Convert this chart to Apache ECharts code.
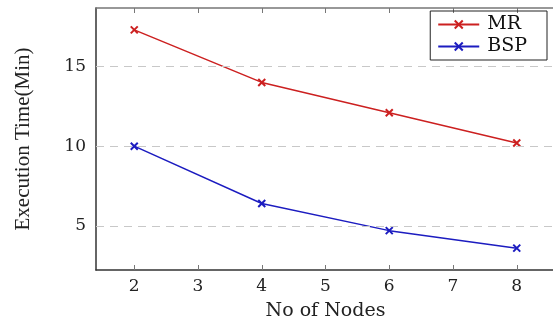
<!DOCTYPE html>
<html>
<head>
<meta charset="utf-8">
<script src="https://cdn.jsdelivr.net/npm/echarts@6/dist/echarts.min.js"></script>
<style>
  html, body { margin: 0; padding: 0; background: #fff; }
  #main { width: 553px; height: 322px; }
</style>
</head>
<body>
<div id="main"></div>
<script>
// values
var nodes = [2, 4, 6, 8];
var mrTime = [17.3, 14.0, 12.1, 10.2];
var bspTime = [10.0, 6.4, 4.7, 3.6];
var xTicks = [2, 3, 4, 5, 6, 7, 8];
var yTicks = [5, 10, 15];

var chart = echarts.init(document.getElementById('main'));

// little "x" marker like pgfplots
var cross = 'path://M0,0L10,10M10,0L0,10';
var serif = '"DejaVu Serif", "Liberation Serif", serif';
var narrowSerif = '"Liberation Serif", "DejaVu Serif", serif';

function pairs(xs, ys) {
  return xs.map(function (x, i) { return [x, ys[i]]; });
}

var option = {
  animation: false,
  grid: { left: 96, top: 8, right: -2, bottom: 52, outerBoundsMode: 'none', containLabel: false },
  legend: {
    orient: 'vertical',
    right: 6,
    top: 11,
    padding: [4, 20, 4, 7],
    itemGap: 3,
    itemWidth: 41,
    itemHeight: 10,
    borderColor: '#222',
    borderWidth: 1,
    textStyle: { fontFamily: serif, fontSize: 19, color: '#111', padding: [0, 0, 0, 3] },
    data: ['MR', 'BSP']
  },
  xAxis: [{
    type: 'value',
    min: 1.4,
    max: 8.6,
    name: 'No of Nodes',
    nameLocation: 'middle',
    nameGap: 32,
    nameTextStyle: { fontFamily: serif, fontSize: 19, color: '#222' },
    axisLine: { lineStyle: { color: '#333', width: 1.5 } },
    axisTick: { inside: true, length: 5, customValues: xTicks, lineStyle: { color: '#777' } },
    axisLabel: { customValues: xTicks, fontFamily: serif, fontSize: 17, color: '#222', margin: 8 },
    splitLine: { show: false }
  }, {
    type: 'value',
    position: 'top',
    min: 1.4,
    max: 8.6,
    axisLine: { lineStyle: { color: '#777', width: 1.5 } },
    axisTick: { inside: true, length: 5, customValues: xTicks, lineStyle: { color: '#777' } },
    axisLabel: { show: false },
    splitLine: { show: false }
  }],
  yAxis: {
    type: 'value',
    min: 2.23,
    max: 18.67,
    name: 'Execution Time(Min)',
    nameLocation: 'middle',
    nameGap: 62,
    nameTextStyle: { fontFamily: narrowSerif, fontSize: 21, color: '#222' },
    axisLine: { show: true, lineStyle: { color: '#333', width: 1.5 } },
    axisTick: { show: true, inside: true, length: 5, customValues: yTicks, lineStyle: { color: '#777' } },
    axisLabel: { customValues: yTicks, fontFamily: serif, fontSize: 17, color: '#222', margin: 10 },
    splitLine: { show: false }
  },
  series: [{
    name: 'MR',
    type: 'line',
    data: pairs(nodes, mrTime),
    symbol: cross,
    symbolSize: 7,
    color: '#cc2020',
    lineStyle: { width: 1.5, color: '#cc2020' },
    itemStyle: { color: 'none', borderColor: '#cc2020', borderWidth: 2 },
    markLine: {
      silent: true,
      symbol: 'none',
      label: { show: false },
      lineStyle: { type: [8, 6], color: '#c8c8c8', width: 1.2 },
      data: yTicks.map(function (v) { return { yAxis: v }; })
    },
    z: 3
  }, {
    name: 'BSP',
    type: 'line',
    data: pairs(nodes, bspTime),
    symbol: cross,
    symbolSize: 7,
    color: '#1c1cc0',
    lineStyle: { width: 1.5, color: '#1c1cc0' },
    itemStyle: { color: 'none', borderColor: '#1c1cc0', borderWidth: 2 },
    z: 3
  }]
};

option && chart.setOption(option);
</script>
</body>
</html>
